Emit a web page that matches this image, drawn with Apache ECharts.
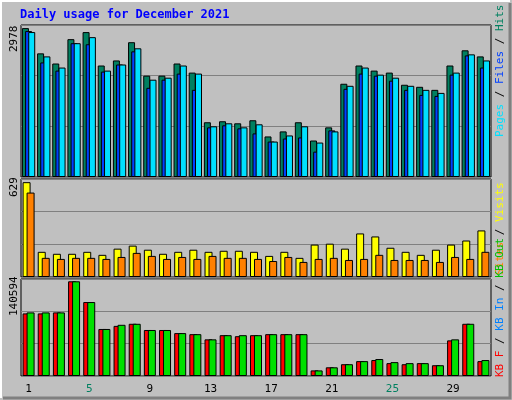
<!DOCTYPE html>
<html>
<head>
<meta charset="utf-8">
<script src="https://cdn.jsdelivr.net/npm/echarts@6/dist/echarts.min.js"></script>
<style>
  html, body { margin: 0; padding: 0; background: #c0c0c0; }
  #chart { width: 512px; height: 400px; }
</style>
</head>
<body>
<div id="chart"></div>
<script>
// data
const days = [];
for (let d = 1; d <= 31; d++) days.push(String(d));
const weekendDays = ['4', '5', '11', '12', '18', '19', '25', '26'];

const hits = [2978, 2473, 2270, 2757, 2898, 2230, 2331, 2696, 2027, 2027, 2270, 2088, 1095, 1115, 1074, 1135,
  811, 912, 1095, 730, 993, 1865, 2230, 2128, 2088, 1845, 1804, 1743, 2230, 2534, 2412];
const files = [2919, 2291, 2128, 2676, 2655, 2108, 2250, 2513, 1784, 1946, 2068, 1743, 993, 1034, 973, 872,
  709, 770, 791, 507, 932, 1764, 2068, 2027, 1926, 1743, 1642, 1622, 2047, 2432, 2189];
const pages = [2899, 2412, 2189, 2676, 2797, 2128, 2250, 2574, 1946, 1986, 2230, 2068, 1014, 1074, 993, 1054,
  709, 831, 1014, 689, 912, 1824, 2189, 2047, 1986, 1824, 1743, 1682, 2088, 2453, 2331];

const visits = [629, 167, 154, 154, 167, 147, 188, 208, 181, 154, 167, 181, 167, 174, 174, 167,
  140, 167, 127, 215, 221, 188, 289, 269, 194, 167, 147, 181, 215, 242, 309];
const sites = [560, 127, 120, 127, 127, 120, 133, 160, 140, 120, 133, 120, 140, 127, 127, 120,
  106, 133, 100, 120, 127, 113, 120, 147, 113, 113, 113, 100, 133, 120, 167];

const kbF = [92900, 92900, 94400, 140594, 109800, 69800, 74400, 77500, 68300, 68300, 63700, 62100, 54400, 60600, 59100, 60600,
  62100, 62100, 62100, 8300, 12900, 17500, 22100, 23700, 19100, 17500, 19100, 16000, 52900, 77500, 22100];
const kbIn = [94400, 94400, 94400, 140594, 109800, 69800, 76000, 77500, 68300, 68300, 63700, 62100, 54400, 60600, 60600, 60600,
  62100, 62100, 62100, 8300, 12900, 17500, 22100, 25200, 20600, 19100, 19100, 16000, 54400, 77500, 23700];

const maxLabels = ['2978', '629', '140594'];

const mono = 'DejaVu Sans Mono';
const chart = echarts.init(document.getElementById('chart'));

const grids = [
  { left: 21, right: 21, top: 25, height: 152 },
  { left: 21, right: 21, top: 179, height: 98 },
  { left: 21, right: 21, top: 279, height: 97 }
].map(g => Object.assign(g, { show: true, backgroundColor: '#c0c0c0', borderColor: '#000', borderWidth: 1 }));

const axisMax = [3040, 650, 144000];

const xAxes = [0, 1, 2].map(i => ({
  type: 'category', gridIndex: i, data: days,
  axisLine: { show: false }, axisTick: { show: false },
  axisLabel: i === 2 ? {
    show: true, fontFamily: mono, fontSize: 11, margin: 8,
    formatter: v => weekendDays.includes(v) ? '{w|' + v + '}' : v,
    color: '#000',
    rich: { w: { color: '#008060', fontFamily: mono, fontSize: 11 } }
  } : { show: false }
}));

const yAxes = [0, 1, 2].map(i => ({
  type: 'value', gridIndex: i, min: 0, max: axisMax[i], interval: axisMax[i] / 3,
  axisLine: { show: false }, axisTick: { show: false }, axisLabel: { show: false },
  splitLine: { show: true, lineStyle: { color: '#808080', width: 1 } }
}));

const bar = (name, data, color, i, width, gap) => ({
  name, type: 'bar', data, xAxisIndex: i, yAxisIndex: i,
  barWidth: width, barGap: gap,
  itemStyle: { color, borderColor: '#000', borderWidth: 1 }
});

chart.setOption({
  animation: false,
  backgroundColor: '#c0c0c0',
  grid: grids,
  xAxis: xAxes,
  yAxis: yAxes,
  series: [
    bar('Hits', hits, '#008060', 0, 7, '-55%'),
    bar('Files', files, '#0040ff', 0, 7, '-55%'),
    bar('Pages', pages, '#00e0ff', 0, 7, '-55%'),
    bar('Visits', visits, '#ffff00', 1, 8, '-50%'),
    bar('Sites', sites, '#ff8000', 1, 8, '-50%'),
    bar('KB F', kbF, '#ff0000', 2, 8, '-50%'),
    bar('KB In', kbIn, '#00e000', 2, 8, '-50%')
  ],
  graphic: [
    // frame bevel
    { type: 'polyline', shape: { points: [[1, 398], [1, 1], [510, 1]] }, style: { stroke: '#fff', lineWidth: 2, fill: null } },
    { type: 'polyline', shape: { points: [[3, 398], [510, 398], [510, 3]] }, style: { stroke: '#808080', lineWidth: 3, fill: null } },
    { type: 'text', left: 20, top: 9, style: { text: 'Daily usage for December 2021', fill: '#0000ff', font: 'bold 12px "' + mono + '"' } },
    // max labels
    { type: 'text', x: 9, y: 52, rotation: Math.PI / 2, style: { text: maxLabels[0], fill: '#000', font: '11px "' + mono + '"' } },
    { type: 'text', x: 9, y: 197, rotation: Math.PI / 2, style: { text: maxLabels[1], fill: '#000', font: '11px "' + mono + '"' } },
    { type: 'text', x: 9, y: 316, rotation: Math.PI / 2, style: { text: maxLabels[2], fill: '#000', font: '11px "' + mono + '"' } },
    // right legends
    {
      type: 'text', x: 495, y: 137, rotation: Math.PI / 2,
      style: {
        text: '{p|Pages} {s|/} {f|Files} {s|/} {h|Hits}',
        font: '11px "' + mono + '"',
        rich: { p: { fill: '#00e0ff' }, f: { fill: '#0040ff' }, h: { fill: '#008060' }, s: { fill: '#000' } }
      }
    },
    {
      type: 'text', x: 495, y: 275, rotation: Math.PI / 2,
      style: {
        text: '{o|Sites} {s|/} {v|Visits}',
        font: '11px "' + mono + '"',
        rich: { o: { fill: '#ff8000' }, v: { fill: '#ffff00' }, s: { fill: '#000' } }
      }
    },
    {
      type: 'text', x: 495, y: 377, rotation: Math.PI / 2,
      style: {
        text: '{r|KB F} {s|/} {b|KB In} {s|/} {g|KB Out}',
        font: '11px "' + mono + '"',
        rich: { r: { fill: '#ff0000' }, b: { fill: '#0080ff' }, g: { fill: '#00c000' }, s: { fill: '#000' } }
      }
    }
  ]
});
</script>
</body>
</html>
